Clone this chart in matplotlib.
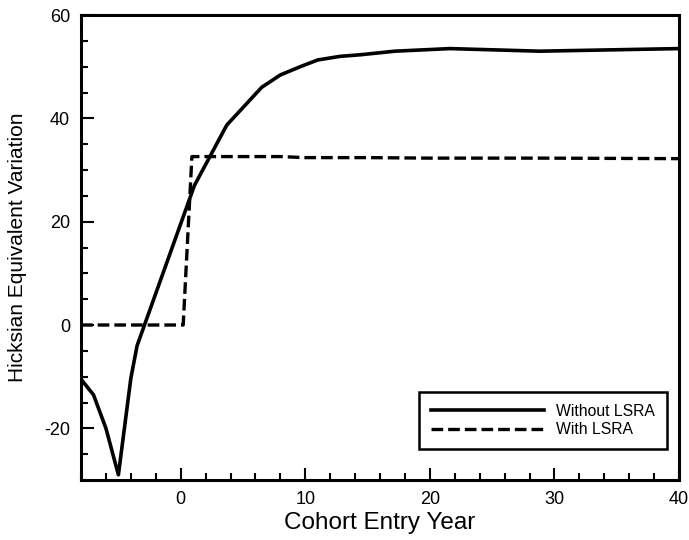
import matplotlib
matplotlib.use('Agg')
import matplotlib.pyplot as plt
from matplotlib.ticker import MultipleLocator

plt.rcParams['font.family'] = ['Liberation Sans', 'DejaVu Sans']
plt.rcParams['axes.unicode_minus'] = False

# Without LSRA (solid)
year_no = [-8, -7, -6, -5, -4, -3.5, 1.1, 3.7, 6.5, 8, 9.6, 11, 12.8, 14.4, 17.2, 21.6, 28.8, 40]
hev_no = [-10.5, -13.5, -20, -29, -10.3, -4, 27, 38.7, 46, 48.4, 50, 51.3, 52, 52.3, 53, 53.5, 53, 53.5]

# With LSRA (dashed)
year_with = [-8, 0.2, 0.9, 5, 8, 10, 15, 20, 29, 40]
hev_with = [0, 0, 32.6, 32.6, 32.6, 32.4, 32.4, 32.3, 32.3, 32.2]

fig = plt.figure(figsize=(6.89, 5.4), dpi=100)
ax = fig.add_axes([0.1176, 0.1111, 0.8679, 0.8611])

ax.plot(year_no, hev_no, color='black', lw=2.6, label='Without LSRA')
ax.plot(year_with, hev_with, color='black', lw=2.4, dashes=(3.5, 1.5), label='With LSRA')

ax.set_xlim(-8, 40)
ax.set_ylim(-30, 60)
ax.xaxis.set_major_locator(MultipleLocator(10))
ax.xaxis.set_minor_locator(MultipleLocator(2))
ax.yaxis.set_major_locator(MultipleLocator(20))
ax.yaxis.set_minor_locator(MultipleLocator(5))
ax.tick_params(which='both', direction='in', top=False, right=False, width=1.5, labelsize=13, pad=8)
ax.tick_params(which='major', length=9)
ax.tick_params(which='minor', length=5)
for s in ax.spines.values():
    s.set_linewidth(2.2)

ax.set_xlabel('Cohort Entry Year', fontsize=17.5, labelpad=3)
ax.set_ylabel('Hicksian Equivalent Variation', fontsize=15, labelpad=12)

leg = ax.legend(loc='lower right', bbox_to_anchor=(0.98, 0.067), borderaxespad=0, fontsize=11.3,
                fancybox=False, edgecolor='black', framealpha=1, handlelength=7.2, handletextpad=0.8,
                borderpad=0.75, labelspacing=0.2)
leg.get_frame().set_linewidth(1.8)

fig.savefig('out.png', dpi=100)
